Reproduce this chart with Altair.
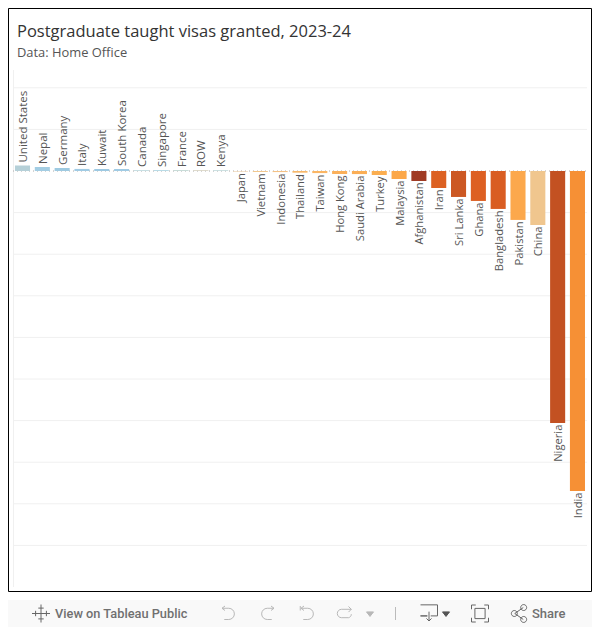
import altair as alt
import pandas as pd

TITLE = "Postgraduate taught visas granted, 2023-24"
SUBTITLE = "Data: Home Office"
countries = ["United States", "Nepal", "Germany", "Italy", "Kuwait", "South Korea", "Canada", "Singapore",
             "France", "ROW", "Kenya", "Japan", "Vietnam", "Indonesia", "Thailand", "Taiwan", "Hong Kong",
             "Saudi Arabia", "Turkey", "Malaysia", "Afghanistan", "Iran", "Sri Lanka", "Ghana", "Bangladesh",
             "Pakistan", "China", "Nigeria", "India"]
values = [660, 480, 360, 250, 240, 240, 120, 120, 120, 110, 110,
          -80, -110, -130, -200, -250, -360, -370, -480, -960, -1200, -2040, -3120, -3600, -4560,
          -5880, -6490, -30300, -38450]
palette = ["#b5d0d8", "#a3cde3", "#9ecae1", "#a0cbe4", "#9dc9e2", "#a0cbe4", "#c8dfe3", "#b9dbe6", "#c8dcd8",
           "#dcd8c8", "#c8dfe0", "#eed2ae", "#f2c88e", "#f5c285", "#f8b869", "#fbb664", "#fbb05a", "#fbae55",
           "#fbae50", "#fca84a", "#a03b24", "#dc6122", "#cc5823", "#dd6023", "#d95d22", "#fca84c", "#f0c68e",
           "#c35122", "#f69035"]
grid_values = [10000, 5000, -5000, -10000, -15000, -20000, -25000, -30000, -35000, -40000, -45000]

df = pd.DataFrame({"country": countries, "v": values})
x_enc = alt.X("country:N", axis=None, sort=countries,
              scale=alt.Scale(domain=countries, range=[4.59, 579.37], paddingInner=0.24, paddingOuter=0.12))
y_scale = alt.Scale(domain=[-50000, 12140], range=[579, 62], nice=False, zero=False)
y_enc = alt.Y("v:Q", axis=None, scale=y_scale)
FONT = "Open Sans"


def one(text):
    return alt.Chart(pd.DataFrame({"t": [text]}))


def icon(path, x, y, size, filled=False, color="#b8b8b8"):
    return one("i").mark_point(shape=path, filled=filled, fill=color if filled else "transparent", stroke=color,
                               strokeWidth=1, opacity=1).encode(
        x=alt.value(x), y=alt.value(y), size=alt.value(size))


grey_bar = one("bar").mark_rect(fill="#f9f9f9", stroke=None).encode(
    x=alt.value(0), x2=alt.value(584), y=alt.value(592), y2=alt.value(619))
frame = one("frame").mark_rect(fill="white", stroke="black", strokeWidth=1).encode(
    x=alt.value(0.5), x2=alt.value(583.5), y=alt.value(0.5), y2=alt.value(583.5))
left_line = one("l").mark_rule(color="#f0f0f0", strokeWidth=1).encode(
    x=alt.value(5.5), y=alt.value(62), y2=alt.value(579))
grid = alt.Chart(pd.DataFrame({"v": grid_values})).mark_rule(color="#f0f0f0", strokeWidth=1).encode(
    y=y_enc, x=alt.value(5), x2=alt.value(579))
zero = alt.Chart(pd.DataFrame({"v": [0]})).mark_rule(color="#aaaaaa", strokeWidth=1, strokeDash=[1, 3]).encode(
    y=y_enc, x=alt.value(5), x2=alt.value(579))
bars = alt.Chart(df).mark_bar(stroke=None).encode(
    x=x_enc, y=y_enc,
    color=alt.Color("country:N", legend=None, scale=alt.Scale(domain=countries, range=palette)))
label_pos = alt.Chart(df[df.v > 0]).mark_text(
    angle=270, align="left", baseline="middle", dx=3, dy=1.5, fontSize=11.5, font=FONT, color="#555555").encode(
    x=x_enc, y=y_enc, text="country:N")
label_neg = alt.Chart(df[df.v < 0]).mark_text(
    angle=270, align="right", baseline="middle", dx=-1.5, dy=1.5, fontSize=11.2, font=FONT, color="#555555").encode(
    x=x_enc, y=y_enc, text="country:N")
title = one(TITLE).mark_text(align="left", baseline="alphabetic", fontSize=16.5, font=FONT, color="#333333").encode(
    x=alt.value(9), y=alt.value(29), text="t:N")
subtitle = one(SUBTITLE).mark_text(align="left", baseline="alphabetic", fontSize=12.9, font=FONT, color="#555555").encode(
    x=alt.value(9), y=alt.value(49), text="t:N")
view_text = one("View on Tableau Public").mark_text(
    align="left", baseline="middle", fontSize=12.8, font="Roboto", fontWeight=500, color="#707070").encode(
    x=alt.value(47), y=alt.value(605.5), text="t:N")
share_text = one("Share").mark_text(
    align="left", baseline="middle", fontSize=13, font="Roboto", fontWeight=500, color="#707070").encode(
    x=alt.value(524), y=alt.value(605.5), text="t:N")

undo = "M-0.4 -1 L-0.8 -0.7 L-0.4 -0.4 M-0.8 -0.7 L0.1 -0.7 A0.75 0.75 0 0 1 0.1 0.8 L-0.5 0.8"
redo = "M0.4 -1 L0.8 -0.7 L0.4 -0.4 M0.8 -0.7 L-0.1 -0.7 A0.75 0.75 0 0 0 -0.1 0.8 L0.5 0.8"
revert = "M-0.9 -1 L-0.9 -0.4 M-0.4 -1 L-0.8 -0.7 L-0.4 -0.4 M-0.8 -0.7 L0.1 -0.7 A0.75 0.75 0 0 1 0.1 0.8 L-0.5 0.8"
forward = "M0.5 -1 L0.9 -0.6 L0.5 -0.2 M0.9 -0.6 L-0.5 -0.6 A0.5 0.5 0 0 0 -0.5 0.6 L0.5 0.6 A0.5 0.5 0 0 0 0.9 0.1"
tab = "M0 -1 L0 1 M-0.3 -0.6 L0.3 -0.6 M-1 0 L1 0 M-0.3 0.6 L0.3 0.6 M-0.6 -0.3 L-0.6 0.3 M0.6 -0.3 L0.6 0.3"
tri = "M-1 -0.6 L1 -0.6 L0 0.7 Z"
dl = "M-1 -0.9 L1 -0.9 L1 0.4 L0.2 0.4 M-0.2 0.4 L-1 0.4 Z M0 -0.1 L0 1 M-0.3 0.7 L0 1 L0.3 0.7"
full = ("M-1 -0.5 L-1 -1 L-0.5 -1 M0.5 -1 L1 -1 L1 -0.5 M1 0.5 L1 1 L0.5 1 M-0.5 1 L-1 1 L-1 0.5 "
        "M-0.6 -0.6 L0.6 -0.6 L0.6 0.6 L-0.6 0.6 Z")
share = ("M0.5 -0.7 L-0.5 0 L0.5 0.7 M0.9 -0.7 A0.35 0.35 0 1 1 0.2 -0.7 A0.35 0.35 0 1 1 0.9 -0.7 "
         "M-0.2 0 A0.35 0.35 0 1 1 -0.9 0 A0.35 0.35 0 1 1 -0.2 0 "
         "M0.9 0.7 A0.35 0.35 0 1 1 0.2 0.7 A0.35 0.35 0 1 1 0.9 0.7")

icons = [
    icon(tab, 33, 605.5, 324, color="#666666"),
    icon(undo, 220, 605.5, 225), icon(redo, 260, 605.5, 225),
    icon(revert, 299, 605.5, 225), icon(forward, 337, 605.5, 196),
    icon(tri, 362, 606, 49, filled=True),
    icon(dl, 421, 604.5, 289, color="#666666"), icon(tri, 438, 606, 49, filled=True, color="#555555"),
    icon(full, 472, 605.5, 289, color="#666666"), icon(share, 511, 605.5, 289, color="#666666"),
]
sep = one("s").mark_rule(color="#bbbbbb", strokeWidth=1).encode(
    x=alt.value(387.5), y=alt.value(599), y2=alt.value(612))

chart = alt.layer(
    grey_bar, frame, left_line, grid, zero, bars, label_pos, label_neg, title, subtitle,
    view_text, share_text, sep, *icons
).resolve_scale(x="shared", y="shared", color="independent").properties(
    width=584, height=619, padding=0, background="white",
    autosize=alt.AutoSizeParams(type="none"),
).configure_view(stroke=None)

chart.save("out.html", embed_options={"renderer": "svg", "actions": False})
